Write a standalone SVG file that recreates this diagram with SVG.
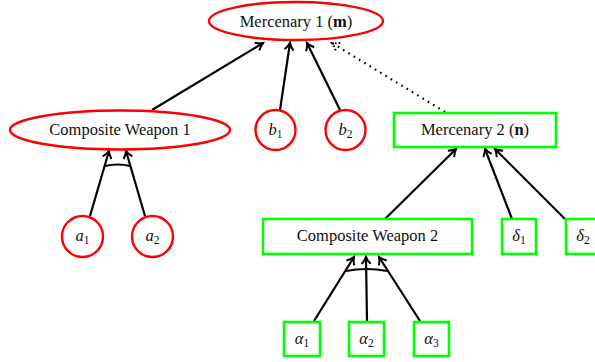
<svg xmlns="http://www.w3.org/2000/svg" width="595" height="362" viewBox="0 0 595 362">
<style>
.red{fill:#fff;stroke:#f00;stroke-width:2.4}
.grn{fill:#fff;stroke:#0f0;stroke-width:2.6}
text{font-size:16.5px;fill:#111;text-anchor:middle}
.it{font-style:italic}
.sub{font-size:11.5px;font-style:normal}
.e{fill:none;stroke:#000;stroke-width:2.2}
.d{fill:none;stroke:#000;stroke-width:2.2;stroke-dasharray:1.6 4.6}
</style>
<defs>
<marker id="ah" viewBox="0 0 12 12" refX="10" refY="6" markerWidth="12" markerHeight="12" markerUnits="userSpaceOnUse" orient="auto">
<path d="M3,1.5 Q7,5 10,6 Q7,7 3,10.5" fill="none" stroke="#000" stroke-width="2"/>
</marker>
<marker id="ahd" viewBox="0 0 12 12" refX="10" refY="6" markerWidth="12" markerHeight="12" markerUnits="userSpaceOnUse" orient="auto">
<path d="M3,1.5 Q7,5 10,6 Q7,7 3,10.5" fill="none" stroke="#000" stroke-width="2" stroke-dasharray="1.6 2.2"/>
</marker>
</defs>
<g id="connectors">
<path class="e" d="M152,110 L263,43" marker-end="url(#ah)"/>
<path class="e" d="M280,110 L290,43" marker-end="url(#ah)"/>
<path class="e" d="M340,110 L307,43" marker-end="url(#ah)"/>
<path class="d" d="M445,112 L332,43" marker-end="url(#ahd)"/>
<path class="e" d="M90,216 L109,151" marker-end="url(#ah)"/>
<path class="e" d="M145,216 L126,151" marker-end="url(#ah)"/>
<path class="e" d="M105,166 Q117.5,163 130,166"/>
<path class="e" d="M385,219 L456,149" marker-end="url(#ah)"/>
<path class="e" d="M512,219 L485,149" marker-end="url(#ah)"/>
<path class="e" d="M565,219 L495,149" marker-end="url(#ah)"/>
<path class="e" d="M314,321 L354,257" marker-end="url(#ah)"/>
<path class="e" d="M367,321 L366,257" marker-end="url(#ah)"/>
<path class="e" d="M420,321 L379,257" marker-end="url(#ah)"/>
<path class="e" d="M346,271 Q366.5,267 387,271"/>
</g>
<g id="m1">
<ellipse class="red" cx="296" cy="21" rx="87" ry="19"/>
<text font-family="Liberation Serif" x="296" y="27">Mercenary 1 (<tspan font-weight="bold">m</tspan>)</text>
</g>
<g id="cw1">
<ellipse class="red" cx="120" cy="130" rx="110" ry="19.5"/>
<text font-family="Liberation Serif" x="120" y="135">Composite Weapon 1</text>
</g>
<g id="b1">
<circle class="red" cx="275.5" cy="130" r="20"/>
<text font-family="Liberation Serif" x="275.5" y="135"><tspan class="it">b</tspan><tspan class="sub" dy="3">1</tspan></text>
</g>
<g id="b2">
<circle class="red" cx="345.5" cy="130" r="20"/>
<text font-family="Liberation Serif" x="345.5" y="135"><tspan class="it">b</tspan><tspan class="sub" dy="3">2</tspan></text>
</g>
<g id="a1">
<circle class="red" cx="82.5" cy="236.5" r="20.5"/>
<text font-family="Liberation Serif" x="82.5" y="241"><tspan class="it">a</tspan><tspan class="sub" dy="3">1</tspan></text>
</g>
<g id="a2">
<circle class="red" cx="152.5" cy="236.5" r="20.5"/>
<text font-family="Liberation Serif" x="152.5" y="241"><tspan class="it">a</tspan><tspan class="sub" dy="3">2</tspan></text>
</g>
<g id="m2">
<rect class="grn" x="394" y="113" width="162" height="34"/>
<text font-family="Liberation Serif" x="475" y="135">Mercenary 2 (<tspan font-weight="bold">n</tspan>)</text>
</g>
<g id="cw2">
<rect class="grn" x="263" y="219" width="209" height="35"/>
<text font-family="Liberation Serif" x="367.5" y="241">Composite Weapon 2</text>
</g>
<g id="d1">
<rect class="grn" x="502" y="219" width="34" height="35"/>
<text font-family="Liberation Serif" x="519" y="241"><tspan class="it">δ</tspan><tspan class="sub" dy="3">1</tspan></text>
</g>
<g id="d2">
<rect class="grn" x="566" y="219" width="34" height="35"/>
<text font-family="Liberation Serif" x="583" y="241"><tspan class="it">δ</tspan><tspan class="sub" dy="3">2</tspan></text>
</g>
<g id="al1">
<rect class="grn" x="284" y="322" width="36" height="34"/>
<text font-family="Liberation Serif" x="302" y="344"><tspan class="it">α</tspan><tspan class="sub" dy="3">1</tspan></text>
</g>
<g id="al2">
<rect class="grn" x="349" y="322" width="35" height="34"/>
<text font-family="Liberation Serif" x="366.5" y="344"><tspan class="it">α</tspan><tspan class="sub" dy="3">2</tspan></text>
</g>
<g id="al3">
<rect class="grn" x="414" y="322" width="35" height="34"/>
<text font-family="Liberation Serif" x="431.5" y="344"><tspan class="it">α</tspan><tspan class="sub" dy="3">3</tspan></text>
</g>
</svg>
